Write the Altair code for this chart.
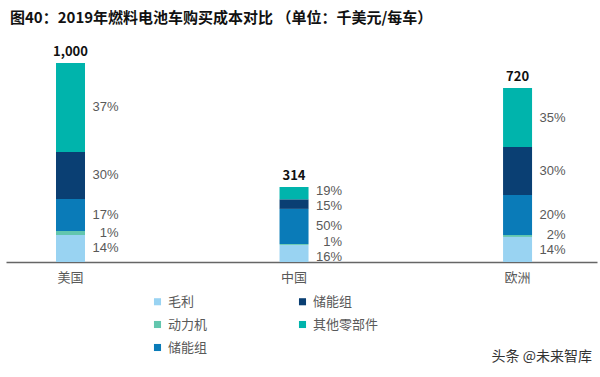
import altair as alt
import pandas as pd

# ---- data ----
regions = ["美国", "中国", "欧洲"]
totals = [1000, 314, 720]
components = ["毛利", "动力机", "储能组A", "储能组B", "其他零部件"]  # bottom -> top
# segment heights as drawn (thousand USD scale of the picture)
seg_us = [136, 20, 161, 236, 447]
seg_cn = [85, 5, 177, 48, 62]
seg_eu = [126, 10, 201, 241, 296]
pct_us = ["14%", "1%", "17%", "30%", "37%"]
pct_cn = ["16%", "1%", "50%", "15%", "19%"]
pct_eu = ["14%", "2%", "20%", "30%", "35%"]

colors = {"毛利": "#99D3F2", "动力机": "#62C6AE", "储能组A": "#0A7BB8",
          "储能组B": "#0A3F73", "其他零部件": "#00B4AC"}
legend_order = ["毛利", "动力机", "储能组A", "储能组B", "其他零部件"]

FONT = "Noto Sans CJK SC"
NUMFONT = "Liberation Sans"
GRAY = "#595959"


def spread(centers, gap=76):
    pos = list(centers)
    for _ in range(60):
        for i in range(len(pos) - 1):
            d = pos[i + 1] - pos[i]
            if d < gap:
                m = (gap - d) / 2
                pos[i] -= m
                pos[i + 1] += m
    return pos


rows = []
for reg, segs, pcts in [("美国", seg_us, pct_us), ("中国", seg_cn, pct_cn), ("欧洲", seg_eu, pct_eu)]:
    base = 0
    centers = []
    for s in segs:
        centers.append(base + s / 2)
        base += s
    lab = spread(centers)
    base = 0
    for i, (c, s, p) in enumerate(zip(components, segs, pcts)):
        rows.append({"region": reg, "comp": c, "order": i, "y0": base, "y1": base + s,
                     "pct": p, "ly": lab[i]})
        base += s
df = pd.DataFrame(rows)

tot_rows = []
for reg, t, segs in zip(regions, totals, [seg_us, seg_cn, seg_eu]):
    tot_rows.append({"region": reg, "total": t, "top": sum(segs)})
tdf = pd.DataFrame(tot_rows)

xscale = alt.Scale(domain=regions, paddingInner=0.87, paddingOuter=0.257, align=0.435)
x = alt.X("region:N", scale=xscale, sort=regions,
          axis=alt.Axis(title=None, labelAngle=0, ticks=False, labelPadding=9,
                        labelFont=FONT, labelFontSize=13, labelColor=GRAY,
                        domainColor="#666666", domainWidth=1.5))
yscale = alt.Scale(domain=[0, 1000], nice=False, zero=True)

label_expr = ("datum.value == '储能组A' || datum.value == '储能组B' ? '储能组' : datum.value")

bars = alt.Chart(df).mark_bar(size=29).encode(
    x=x,
    y=alt.Y("y0:Q", scale=yscale, axis=None),
    y2="y1:Q",
    color=alt.Color("comp:N",
                    scale=alt.Scale(domain=legend_order, range=[colors[c] for c in legend_order]),
                    sort=legend_order,
                    legend=alt.Legend(title=None, orient="none", legendX=145, legendY=232,
                                      columns=2, columnPadding=88, rowPadding=9,
                                      symbolType="square", symbolSize=50, symbolStrokeWidth=0,
                                      labelFont=FONT, labelFontSize=13, labelColor=GRAY,
                                      labelExpr=label_expr, labelLimit=200)),
)

pct_text = alt.Chart(df).mark_text(align="right", baseline="middle", dx=48,
                                   font=NUMFONT, fontSize=13, color=GRAY).encode(
    x=alt.X("region:N", scale=xscale, sort=regions),
    y=alt.Y("ly:Q", scale=yscale),
    text="pct:N",
)

tot_text = alt.Chart(tdf).mark_text(baseline="middle", dy=-11, font=FONT, fontSize=13,
                                    fontWeight="bold", color="#111111").encode(
    x=alt.X("region:N", scale=xscale, sort=regions),
    y=alt.Y("top:Q", scale=yscale),
    text=alt.Text("total:Q", format=","),
)

wm = alt.Chart(pd.DataFrame({"t": ["头条 @未来智库"]})).mark_text(
    align="right", baseline="middle", font=FONT, fontSize=14, color="#333333").encode(
    x=alt.value(586), y=alt.value(294), text="t:N")

chart = alt.layer(bars, pct_text, tot_text, wm).properties(
    width=591, height=199,
    padding={"left": 6, "top": 63, "right": 3, "bottom": 115},
    autosize=alt.AutoSizeParams(type="none"),
    title=alt.TitleParams("图40：2019年燃料电池车购买成本对比 （单位：千美元/每车）",
                          anchor="start", frame="group", font=FONT, fontSize=15,
                          fontWeight="bold", color="#111111", offset=20, dx=4),
).configure(background="white").configure_view(stroke=None, strokeWidth=0)

chart.save("out.html", embed_options={"renderer": "svg", "actions": False})
